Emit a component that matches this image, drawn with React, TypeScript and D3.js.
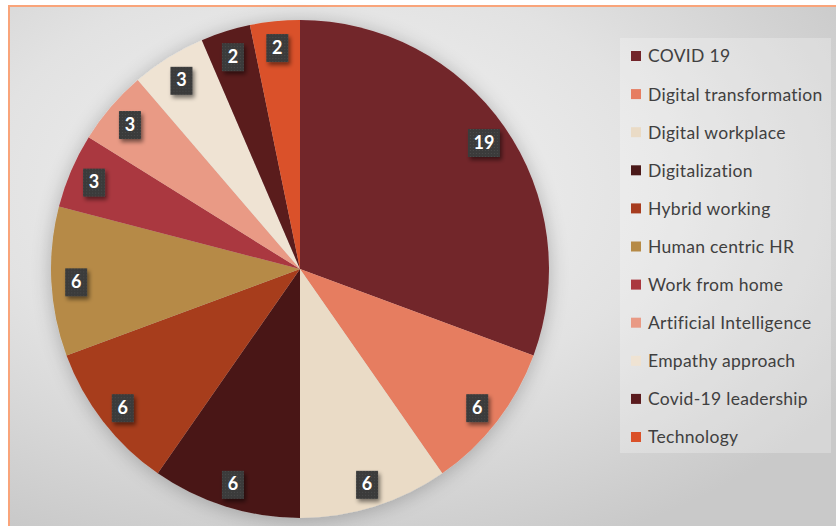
import React from "react";
import * as d3 from "d3";

const categories = [
  "COVID 19",
  "Digital transformation",
  "Digital workplace",
  "Digitalization",
  "Hybrid working",
  "Human centric HR",
  "Work from home",
  "Artificial Intelligence",
  "Empathy approach",
  "Covid-19 leadership",
  "Technology",
];
const values = [19, 6, 6, 6, 6, 6, 3, 3, 3, 2, 2];
const colors = [
  "#72252A",
  "#E67D61",
  "#EADBC6",
  "#4A1919",
  "#A73C1F",
  "#B68A46",
  "#AA383F",
  "#E99A85",
  "#EFE3D3",
  "#5A1B1E",
  "#DA5129",
];

const W = 836;
const H = 526;
const cx = 300;
const cy = 269;
const R = 249;

export default function App() {
  const pie = d3.pie<number>().sort(null).value((d) => d)(values);
  const arc = d3.arc<d3.PieArcDatum<number>>().innerRadius(0).outerRadius(R);
  const labelArc = d3.arc<d3.PieArcDatum<number>>().innerRadius(R * 0.9).outerRadius(R * 0.9);
  const legendY = d3.scalePoint<number>().domain(d3.range(categories.length)).range([56, 437]);

  return (
    <svg width={W} height={H} style={{ position: "absolute", left: 0, top: 0, display: "block" }}>
      <defs>
        <radialGradient id="bg" cx="0.38" cy="0.35" r="0.75">
          <stop offset="0" stopColor="#f4f4f4" />
          <stop offset="0.55" stopColor="#e2e2e2" />
          <stop offset="1" stopColor="#c9c9c9" />
        </radialGradient>
        <filter id="pieShadow" x="-20%" y="-20%" width="140%" height="140%">
          <feGaussianBlur in="SourceAlpha" stdDeviation="10" />
          <feOffset dx="0" dy="2" result="b" />
          <feComponentTransfer>
            <feFuncA type="linear" slope="0.25" />
          </feComponentTransfer>
          <feMerge>
            <feMergeNode />
            <feMergeNode in="SourceGraphic" />
          </feMerge>
        </filter>
        <filter id="boxShadow" x="-50%" y="-50%" width="200%" height="200%">
          <feGaussianBlur in="SourceAlpha" stdDeviation="2" />
          <feOffset dx="2" dy="3" />
          <feComponentTransfer>
            <feFuncA type="linear" slope="0.5" />
          </feComponentTransfer>
          <feMerge>
            <feMergeNode />
            <feMergeNode in="SourceGraphic" />
          </feMerge>
        </filter>
        <pattern id="dots" width="3" height="3" patternUnits="userSpaceOnUse">
          <rect width="3" height="3" fill="#3a3b3b" />
          <rect x="1" y="1" width="1" height="1" fill="#4a4b4b" />
        </pattern>
      </defs>
      <rect x={0} y={0} width={W} height={H} fill="#ffffff" />
      <rect x={9} y={7} width={W - 9} height={H - 7} fill="url(#bg)" />
      <line x1={8} y1={6} x2={W} y2={6} stroke="#F9A47A" strokeWidth={2} />
      <line x1={9} y1={6} x2={9} y2={H} stroke="#F9A47A" strokeWidth={2} />

      <g transform={`translate(${cx},${cy})`} filter="url(#pieShadow)">
        {pie.map((d, i) => (
          <path key={i} d={arc(d) || ""} fill={colors[i]} />
        ))}
      </g>
      <g transform={`translate(${cx},${cy})`}>
        {pie.map((d, i) => {
          const [x, y] = labelArc.centroid(d);
          const txt = String(values[i]);
          const w = txt.length > 1 ? 32 : 22;
          const h = 28;
          return (
            <g key={i} transform={`translate(${x},${y + 2})`}>
              <rect x={-w / 2} y={-h / 2} width={w} height={h} fill="url(#dots)" filter="url(#boxShadow)" />
              <text
                x={0}
                y={1}
                textAnchor="middle"
                dominantBaseline="middle"
                fill="#ffffff"
                fontFamily="Lato, 'Open Sans', sans-serif"
                fontWeight="bold"
                fontSize={18}
              >
                {txt}
              </text>
            </g>
          );
        })}
      </g>

      <rect x={620} y={38} width={211} height={415} fill="#ffffff" fillOpacity={0.25} />
      {categories.map((c, i) => (
        <g key={c} transform={`translate(631,${legendY(i)})`}>
          <rect x={0} y={-5} width={10} height={10} fill={colors[i]} />
          <text
            x={17}
            y={2}
            dominantBaseline="middle"
            fill="#404040"
            fontFamily="Lato, 'Open Sans', sans-serif"
            fontSize={17.5}
            letterSpacing={0.3}
          >
            {c}
          </text>
        </g>
      ))}
    </svg>
  );
}
